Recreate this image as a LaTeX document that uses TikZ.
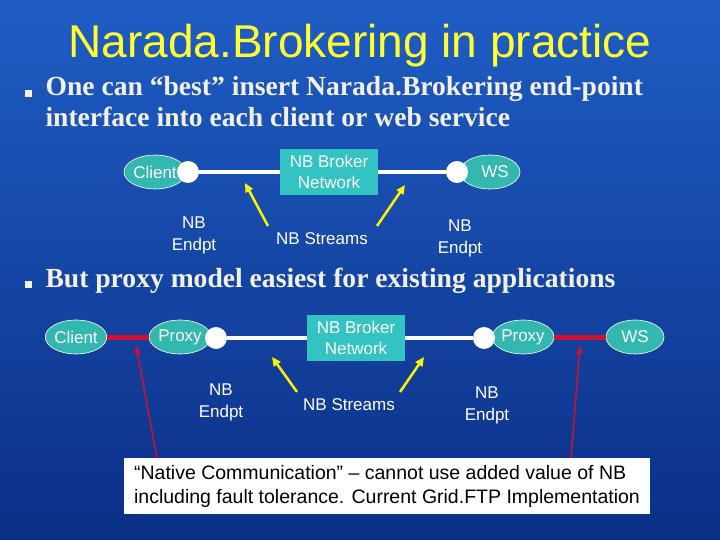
\documentclass[tikz,border=0pt]{standalone}
\usepackage{fontspec}
\setmainfont{Liberation Serif}
\newfontfamily\arialf{Liberation Sans}
\usetikzlibrary{shapes.geometric,arrows.meta}
\definecolor{bgtop}{HTML}{1F5DC4}
\definecolor{bgbot}{HTML}{0B2F86}
\definecolor{ttl}{HTML}{FFFF33}
\definecolor{bul}{HTML}{F2F0E0}
\definecolor{teal}{HTML}{33C3C3}
\definecolor{elt}{HTML}{33B8B0}
\definecolor{redl}{HTML}{D01030}
\tikzset{
  ell/.style={ellipse,fill=elt,draw=white,line width=0.6pt,minimum width=#1,minimum height=34pt,inner sep=0pt,font=\arialf\fontsize{17}{18}\selectfont,text=white},
  dot/.style={circle,fill=white,minimum size=22pt,inner sep=0pt},
  broker/.style={fill=teal,minimum width=98pt,minimum height=46pt,align=center,font=\arialf\fontsize{17}{21}\selectfont,text=white},
  lbl/.style={align=center,font=\arialf\fontsize{17}{22}\selectfont,text=white},
  wline/.style={white,line width=4pt},
  rline/.style={redl,line width=5pt},
  yarr/.style={-{Triangle[length=9pt,width=8pt]},yellow,line width=2.5pt},
  rarr/.style={-{Triangle[length=9pt,width=6pt]},redl,line width=1.5pt},
  bullettext/.style={anchor=west,align=left,text=bul,font=\bfseries\fontsize{27.6}{31}\selectfont}
}
\begin{document}
\begin{tikzpicture}[x=1pt,y=-1pt]
\shade[top color=bgtop,bottom color=bgbot] (0,0) rectangle (720,540);
\useasboundingbox (0,0) rectangle (720,540);
\node[text=ttl,font=\arialf\fontsize{46}{50}\selectfont] (title) at (360,46) {Narada.Brokering in practice};
\node[fill=bul,minimum size=7pt,inner sep=0pt] (b1) at (28,94) {};
\node[bullettext] (t1) at (42,102) {One can “best” insert Narada.Brokering end-point\\interface into each client or web service};
\node[fill=bul,minimum size=7pt,inner sep=0pt] (b2) at (28,284) {};
\node[bullettext] (t2) at (42,281) {But proxy model easiest for existing applications};
% top row
\node[ell=62pt] (c1) at (155,172) {Client};
\node[ell=60pt] (w1) at (490,172) {\hspace*{10pt}WS};
\node[broker] (n1) at (329,172) {NB Broker\\Network};
\node[dot] (d1) at (188,172) {};
\node[dot] (d2) at (457,172) {};
\draw[wline] (d1) -- (n1);
\draw[wline] (n1) -- (d2);
\node[lbl] (e1) at (194,235) {NB\\Endpt};
\node[lbl] (s1) at (322,239) {NB Streams};
\node[lbl] (e2) at (460,238) {NB\\Endpt};
\coordinate (ya1) at (245,183);
\coordinate (yb1) at (405,185);
\draw[yarr] (268,226) -- (ya1);
\draw[yarr] (377,226) -- (yb1);
% bottom row
\node[ell=60pt] (c2) at (76,337) {Client};
\node[ell=62pt] (p1) at (180,337) {Proxy};
\node[broker] (n2) at (356,338) {NB Broker\\Network};
\node[ell=62pt] (p2) at (523,337) {Proxy};
\node[ell=58pt] (w2) at (635,337) {WS};
\node[dot] (d3) at (216,338) {};
\node[dot] (d4) at (484,338) {};
\draw[wline] (d3) -- (n2);
\draw[wline] (n2) -- (d4);
\draw[rline] (c2) -- (p1);
\draw[rline] (p2) -- (w2);
\node[lbl] (e3) at (221,402) {NB\\Endpt};
\node[lbl] (s2) at (349,405) {NB Streams};
\node[lbl] (e4) at (487,405) {NB\\Endpt};
\draw[yarr] (297,392) -- (272,357);
\draw[yarr] (400,392) -- (424,357);
% note
\node[fill=white,minimum width=526pt,minimum height=56pt,inner xsep=2pt,align=left,font=\arialf\fontsize{19.5}{24}\selectfont,text=black] (note) at (387,486) {“Native Communication” – cannot use added value of NB\\including fault tolerance. Current Grid.FTP Implementation};
\coordinate (ra) at (136,345);
\coordinate (rb) at (580,345);
\draw[rarr] (157,458) -- (ra);
\draw[rarr] (571,458) -- (rb);
\end{tikzpicture}
\end{document}
